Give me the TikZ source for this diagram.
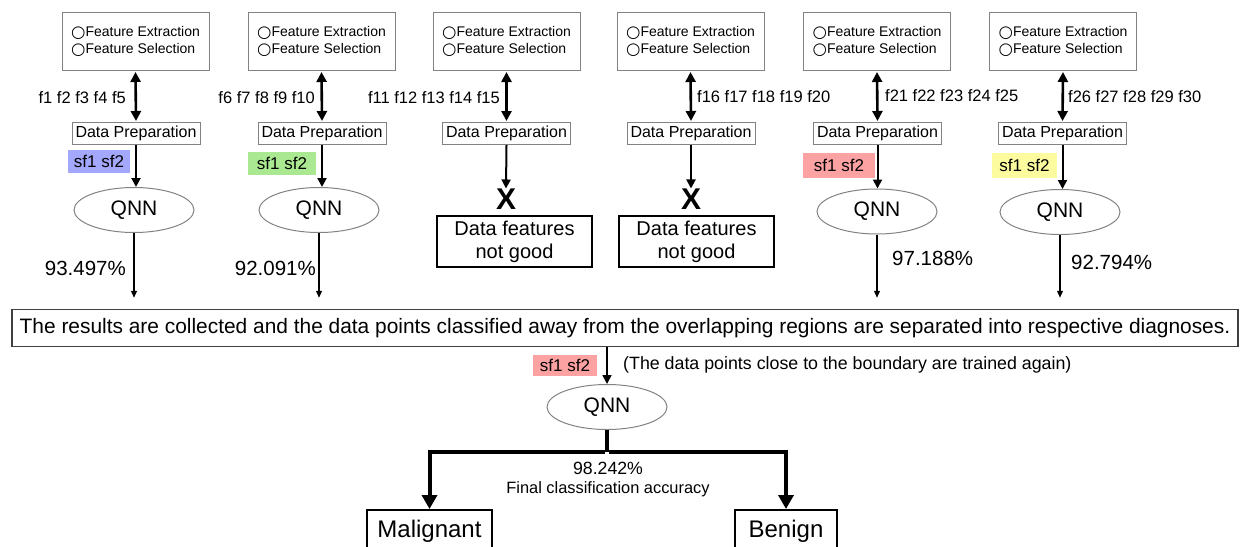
\documentclass[tikz,border=0pt]{standalone}
\usepackage{fontspec}
\setmainfont{Liberation Sans}
\newfontfamily\symfont{DejaVu Sans}
\usetikzlibrary{arrows.meta,shapes.geometric}
\definecolor{sfblue}{RGB}{164,168,252}
\definecolor{sfgreen}{RGB}{170,232,145}
\definecolor{sfred}{RGB}{252,162,162}
\definecolor{sfyellow}{RGB}{252,252,158}
\definecolor{boxgray}{RGB}{130,130,130}
\newcommand{\ring}{{\symfont\fontsize{16.5}{16}\selectfont\raisebox{-0.6pt}{\char"25CB}}}
\tikzset{
  febox/.style={draw=boxgray, line width=1pt, minimum width=147pt, minimum height=58pt, align=left, inner sep=0pt, font=\fontsize{14}{16.5}\selectfont},
  prepbox/.style={draw=boxgray, line width=1pt, minimum width=128pt, minimum height=22pt, inner sep=0pt, font=\fontsize{16}{18}\selectfont},
  flab/.style={font=\fontsize{16.5}{18}\selectfont, inner sep=0pt},
  sfbox/.style={inner sep=0pt, minimum height=23pt, font=\fontsize{17}{19}\selectfont},
  qnn/.style={ellipse, draw=boxgray, line width=1pt, minimum width=120pt, minimum height=45pt, inner sep=0pt, font=\fontsize{21}{24}\selectfont},
  pct/.style={font=\fontsize{20.5}{22}\selectfont, inner sep=0pt},
  xmark/.style={font=\fontsize{30}{30}\selectfont\bfseries, inner sep=0pt},
  badbox/.style={draw=black, line width=2pt, minimum width=155pt, minimum height=51pt, align=center, inner sep=0pt, font=\fontsize{20}{23}\selectfont},
  dbl/.style={line width=2.6pt, {Triangle[length=10pt,width=10pt]}-{Triangle[length=10pt,width=10pt]}},
  down/.style={line width=2pt, -{Triangle[length=9pt,width=9pt]}},
  thin/.style={line width=1.2pt, -{Triangle[length=7pt,width=6pt]}},
  fat/.style={line width=4pt, -{Triangle[length=14pt,width=15pt]}},
  outbox/.style={draw=black, line width=2pt, minimum height=42pt, inner sep=6pt, anchor=north, font=\fontsize{24}{26}\selectfont}
}
\begin{document}
\begin{tikzpicture}[x=1pt,y=-1pt]
\useasboundingbox (0,0) rectangle (1241,546);
\clip (0,0) rectangle (1241,546);
% top boxes
\foreach \i/\x in {1/135.5,2/321.5,3/506.5,4/690.5,5/877,6/1063}{
  \node[febox] (t\i) at (\x,41.5) {\ring Feature Extraction\\\ring Feature Selection};
}
\foreach \i/\x in {1/136,2/322,3/506.5,4/691,5/877.5,6/1062.5}{
  \node[prepbox] (d\i) at (\x,133.5) {Data Preparation};
}
\foreach \i in {1,...,6}{
  \draw[dbl] ([yshift=-1pt]t\i.south) -- ([yshift=1pt]d\i.north);
}
% feature labels
\node[flab, anchor=east] (l1) at (126,98) {f1 f2 f3 f4 f5};
\node[flab, anchor=east] (l2) at (315,98) {f6 f7 f8 f9 f10};
\node[flab, anchor=east] (l3) at (500,98) {f11 f12 f13 f14 f15};
\node[flab, anchor=west] (l4) at (697,97) {f16 f17 f18 f19 f20};
\node[flab, anchor=west] (l5) at (885,96) {f21 f22 f23 f24 f25};
\node[flab, anchor=west] (l6) at (1068,97) {f26 f27 f28 f29 f30};
% sf highlights
\node[sfbox, fill=sfblue, minimum width=62pt] (s1) at (99,161.5) {sf1 sf2};
\node[sfbox, fill=sfgreen, minimum width=68pt] (s2) at (282,163.5) {sf1 sf2};
\node[sfbox, fill=sfred, minimum width=72pt, minimum height=25pt] (s5) at (839,165.5) {sf1 sf2};
\node[sfbox, fill=sfyellow, minimum width=65pt, minimum height=25pt] (s6) at (1024.5,165.5) {sf1 sf2};
% QNNs
\node[qnn] (q1) at (134,210) {QNN};
\node[qnn] (q2) at (319,210) {QNN};
\node[qnn] (q5) at (877,211.5) {QNN};
\node[qnn] (q6) at (1060,212) {QNN};
\draw[down] (d1.south) -- (q1.north -| d1);
\draw[down] (d2.south) -- (q2.north -| d2);
\draw[down] (d5.south) -- (q5.north -| d5);
\draw[down] (d6.south) -- (q6.north -| d6);
% X marks
\node[xmark] (x3) at (506,199) {X};
\node[xmark] (x4) at (691,199) {X};
\draw[down] (d3.south) -- (x3.north);
\draw[down] (d4.south) -- (x4.north);
\node[badbox] (n3) at (514.5,241.5) {Data features\\not good};
\node[badbox] (n4) at (696.5,241.5) {Data features\\not good};
% big box
\node[draw=black!75, line width=1.5pt, minimum width=1226pt, minimum height=37pt, inner sep=0pt, font=\fontsize{20.9}{22}\selectfont] (big) at (625,328) {The results are collected and the data points classified away from the overlapping regions are separated into respective diagnoses.};
\draw[thin, shorten >=11pt] (q1.south) -- (q1.south |- big.north);
\draw[thin, shorten >=11pt] (q2.south) -- (q2.south |- big.north);
\draw[thin, shorten >=11pt] (q5.south) -- (q5.south |- big.north);
\draw[thin, shorten >=11pt] (q6.south) -- (q6.south |- big.north);
\node[pct, anchor=east] (p1) at (126,268) {93.497\%};
\node[pct, anchor=east] (p2) at (316,268) {92.091\%};
\node[pct, anchor=west] (p5) at (892,258) {97.188\%};
\node[pct, anchor=west] (p6) at (1071,262) {92.794\%};
% bottom part
\node[qnn] (qb) at (607,407) {QNN};
\draw[down, line width=1.6pt] (big.south -| qb) -- (qb.north);
\node[sfbox, fill=sfred, minimum width=64pt, minimum height=21pt] (sb) at (565,365) {sf1 sf2};
\node[font=\fontsize{17.8}{19}\selectfont, inner sep=0pt, anchor=west] (note) at (623,365) {(The data points close to the boundary are trained again)};
\node[outbox, minimum width=125pt] (mal) at (429.5,509) {Malignant};
\node[outbox, minimum width=102pt] (ben) at (786,509) {Benign};
\coordinate (j) at (607,452);
\draw[line width=4pt] (qb.south) -- (j);
\draw[fat] ([xshift=-2pt]j) -| (mal.north);
\draw[fat] ([xshift=2pt]j) -| (ben.north);
\node[font=\fontsize{17.7}{19}\selectfont, inner sep=0pt] (acc) at (608,468) {98.242\%};
\node[font=\fontsize{16.4}{17}\selectfont, inner sep=0pt] (fca) at (608,489) {Final classification accuracy};
\end{tikzpicture}
\end{document}
